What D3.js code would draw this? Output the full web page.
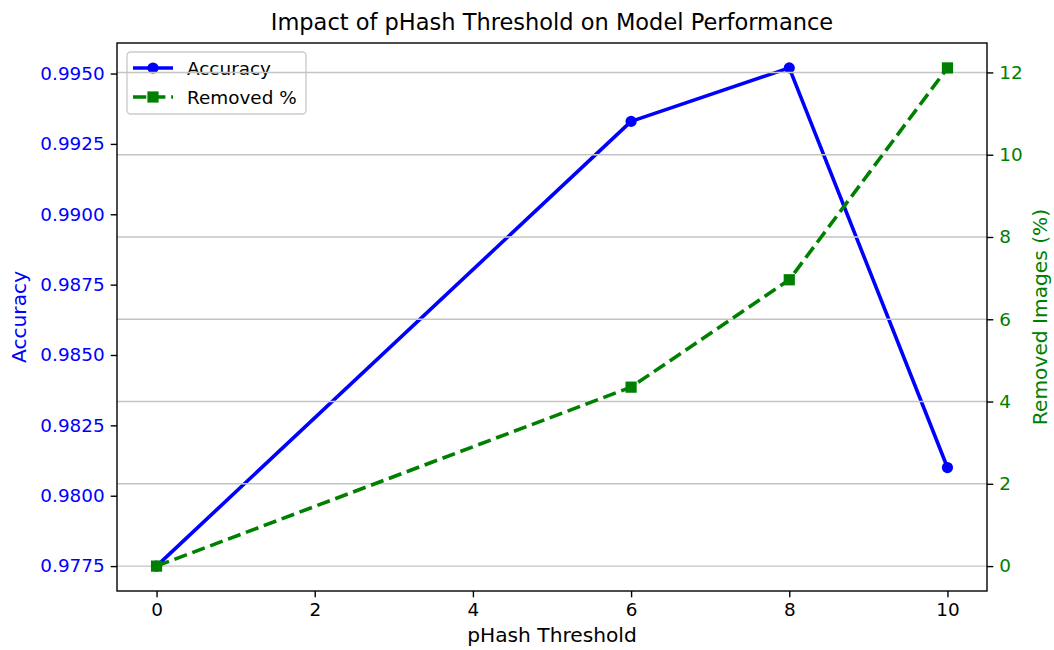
<!DOCTYPE html>
<html>
<head>
<meta charset="utf-8">
<script src="https://cdn.jsdelivr.net/npm/d3@7"></script>
<style>
  html, body { margin: 0; padding: 0; background: #fff; }
  svg { display: block; font-family: "DejaVu Sans", sans-serif; }
</style>
</head>
<body>
<svg id="chart" width="1054" height="650"></svg>
<script>
// pHash thresholds tested
const thresholds = [0, 6, 8, 10];
// Validation accuracy per threshold
const accuracy = [0.9775, 0.9933, 0.9952, 0.9810];
// Share of images removed as near-duplicates (%)
const removedPct = [0, 4.35, 6.96, 12.11];

const xTicks = [0, 2, 4, 6, 8, 10];
const accTicks = [0.9775, 0.9800, 0.9825, 0.9850, 0.9875, 0.9900, 0.9925, 0.9950];
const remTicks = [0, 2, 4, 6, 8, 10, 12];

const title = "Impact of pHash Threshold on Model Performance";
const xLabel = "pHash Threshold";
const accLabel = "Accuracy";
const remLabel = "Removed Images (%)";
const legendLabels = ["Accuracy", "Removed %"];

const BLUE = "#0000ff", GREEN = "#008000";
const plot = { left: 117, right: 987, top: 43, bottom: 591 };

// Pad a data extent by 5% on each side
function padded(vals) {
  const [lo, hi] = d3.extent(vals);
  const m = (hi - lo) * 0.05;
  return [lo - m, hi + m];
}

const x = d3.scaleLinear().domain(padded(thresholds)).range([plot.left, plot.right]);
const yAcc = d3.scaleLinear().domain(padded(accuracy)).range([plot.bottom, plot.top]);
const yRem = d3.scaleLinear().domain(padded(removedPct)).range([plot.bottom, plot.top]);

const svg = d3.select("#chart");
const FS = 18.4;      // ticks and legend
const LFS = 20.2;     // axis labels

// Title
svg.append("text")
  .attr("x", (plot.left + plot.right) / 2).attr("y", 30)
  .attr("text-anchor", "middle").attr("font-size", 22.5).attr("fill", "#000")
  .text(title);

// Accuracy series (left axis)
const accPts = thresholds.map((t, i) => [t, accuracy[i]]);
svg.append("path")
  .datum(accPts)
  .attr("fill", "none").attr("stroke", BLUE).attr("stroke-width", 3.6)
  .attr("stroke-linejoin", "round").attr("stroke-linecap", "square")
  .attr("d", d3.line().x(d => x(d[0])).y(d => yAcc(d[1])));
svg.append("g").selectAll("circle").data(accPts).join("circle")
  .attr("cx", d => x(d[0])).attr("cy", d => yAcc(d[1]))
  .attr("r", 5.6).attr("fill", BLUE);

// Legend
const lg = svg.append("g").attr("transform", "translate(127,52)");
lg.append("rect")
  .attr("width", 179).attr("height", 62).attr("rx", 3.5)
  .attr("fill", "#fff").attr("fill-opacity", 0.8)
  .attr("stroke", "#cccccc").attr("stroke-width", 1.4);
const r1 = 16, r2 = 45;
lg.append("line").attr("x1", 6).attr("x2", 46).attr("y1", r1).attr("y2", r1)
  .attr("stroke", BLUE).attr("stroke-width", 3.6);
lg.append("circle").attr("cx", 26).attr("cy", r1).attr("r", 5.6).attr("fill", BLUE);
lg.append("line").attr("x1", 6).attr("x2", 46).attr("y1", r2).attr("y2", r2)
  .attr("stroke", GREEN).attr("stroke-width", 3.6).attr("stroke-dasharray", "13.3,5.8");
lg.append("rect").attr("x", 20.4).attr("y", r2 - 5.6).attr("width", 11.2).attr("height", 11.2).attr("fill", GREEN);
legendLabels.forEach((lab, i) => {
  lg.append("text").attr("x", 60).attr("y", (i ? r2 : r1) + 6.5)
    .attr("font-size", FS).attr("fill", "#000").text(lab);
});

// Grid from the right-hand axis
svg.append("g").selectAll("line").data(remTicks).join("line")
  .attr("x1", plot.left).attr("x2", plot.right)
  .attr("y1", d => yRem(d)).attr("y2", d => yRem(d))
  .attr("stroke", "#c4c4c4").attr("stroke-width", 1.4);

// Removed % series (right axis)
const remPts = thresholds.map((t, i) => [t, removedPct[i]]);
svg.append("path")
  .datum(remPts)
  .attr("fill", "none").attr("stroke", GREEN).attr("stroke-width", 3.6)
  .attr("stroke-dasharray", "13.3,5.8")
  .attr("d", d3.line().x(d => x(d[0])).y(d => yRem(d[1])));
svg.append("g").selectAll("rect").data(remPts).join("rect")
  .attr("x", d => x(d[0]) - 5.6).attr("y", d => yRem(d[1]) - 5.6)
  .attr("width", 11.2).attr("height", 11.2).attr("fill", GREEN);

// Axes
function styleAxis(g, color) {
  g.select(".domain").remove();
  g.selectAll(".tick line").attr("stroke", "#000").attr("stroke-width", 1.4);
  g.selectAll(".tick text").attr("font-size", FS).attr("fill", color)
    .attr("font-family", "DejaVu Sans, sans-serif");
}
svg.append("g").attr("transform", `translate(0,${plot.bottom})`)
  .call(d3.axisBottom(x).tickValues(xTicks).tickFormat(d3.format("d")).tickSize(6.3).tickPadding(6))
  .call(g => styleAxis(g, "#000"));
svg.append("g").attr("transform", `translate(${plot.left},0)`)
  .call(d3.axisLeft(yAcc).tickValues(accTicks).tickFormat(d3.format(".4f")).tickSize(6.3).tickPadding(6))
  .call(g => styleAxis(g, BLUE));
svg.append("g").attr("transform", `translate(${plot.right},0)`)
  .call(d3.axisRight(yRem).tickValues(remTicks).tickFormat(d3.format("d")).tickSize(6.3).tickPadding(6))
  .call(g => styleAxis(g, GREEN));

// Frame
svg.append("rect")
  .attr("x", plot.left).attr("y", plot.top)
  .attr("width", plot.right - plot.left).attr("height", plot.bottom - plot.top)
  .attr("fill", "none").attr("stroke", "#000").attr("stroke-width", 1.4);

// Axis labels
svg.append("text")
  .attr("x", (plot.left + plot.right) / 2).attr("y", 642)
  .attr("text-anchor", "middle").attr("font-size", LFS).attr("fill", "#000")
  .text(xLabel);
svg.append("text")
  .attr("transform", `translate(26,${(plot.top + plot.bottom) / 2}) rotate(-90)`)
  .attr("text-anchor", "middle").attr("font-size", LFS).attr("fill", BLUE)
  .text(accLabel);
svg.append("text")
  .attr("transform", `translate(1047,${(plot.top + plot.bottom) / 2}) rotate(-90)`)
  .attr("text-anchor", "middle").attr("font-size", LFS).attr("fill", GREEN)
  .text(remLabel);
</script>
</body>
</html>
